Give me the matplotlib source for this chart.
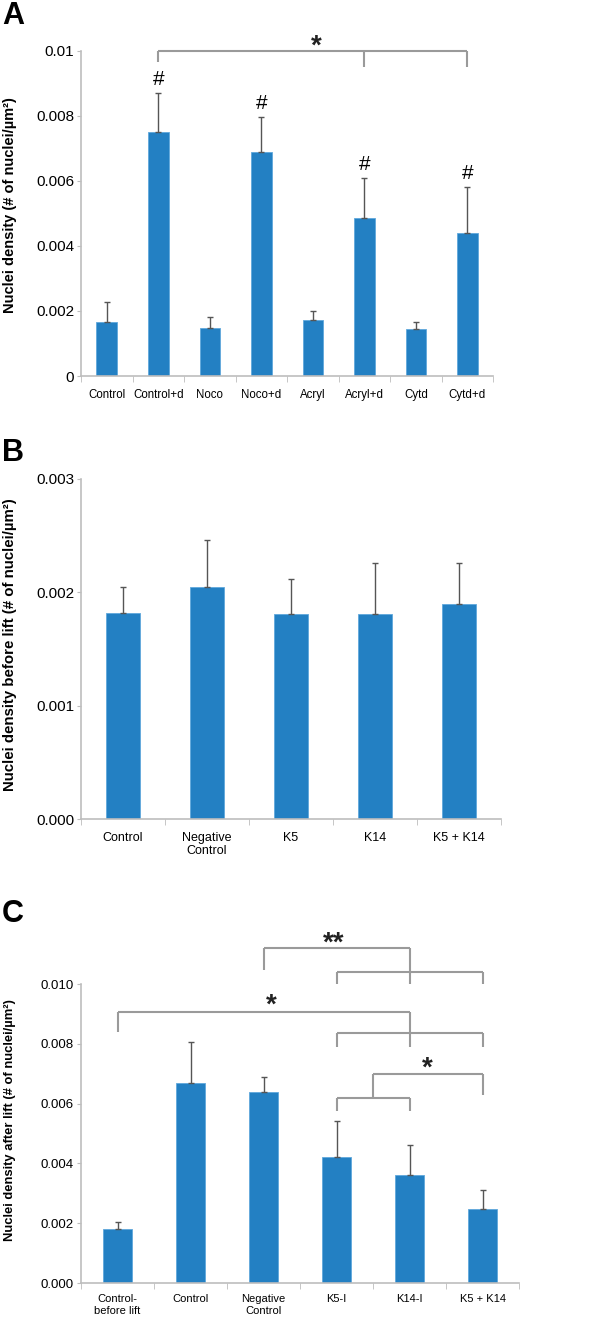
import matplotlib
matplotlib.use("Agg")
import matplotlib.pyplot as plt
import numpy as np

plt.rcParams['font.family'] = ['Liberation Sans', 'DejaVu Sans']

# ---- data ----
labels_a = ['Control', 'Control+d', 'Noco', 'Noco+d', 'Acryl', 'Acryl+d', 'Cytd', 'Cytd+d']
means_a = [0.00167, 0.0075, 0.00149, 0.0069, 0.00171, 0.00485, 0.00144, 0.00439]
tops_a = [0.00227, 0.0087, 0.00183, 0.00796, 0.0020, 0.0061, 0.00165, 0.0058]
hash_a = [1, 3, 5, 7]

labels_b = ['Control', 'Negative\nControl', 'K5', 'K14', 'K5 + K14']
means_b = [0.00182, 0.00205, 0.00181, 0.00181, 0.00190]
tops_b = [0.00205, 0.00246, 0.00212, 0.00226, 0.00226]

labels_c = ['Control-\nbefore lift', 'Control', 'Negative\nControl', 'K5-I', 'K14-I', 'K5 + K14']
means_c = [0.00181, 0.00668, 0.0064, 0.00422, 0.0036, 0.00247]
tops_c = [0.00204, 0.00805, 0.00689, 0.00543, 0.00462, 0.00311]

BAR = '#2380c3'
SPINE = '#bdbdbd'
BRK = '#9a9a9a'

fig = plt.figure(figsize=(6, 13.17), dpi=100)


def bar_panel(rect, labels, means, tops, ylim, yticks, yfmt,
              ytick_size, xtick_size, xpad):
    ax = fig.add_axes(rect)
    x = np.arange(len(labels))
    ax.bar(x, means, width=0.4, color=BAR, edgecolor='#5fa8dc', linewidth=0.6, zorder=2)
    # one-sided error bars (upward only)
    err = np.array(tops) - np.array(means)
    ax.errorbar(x, means, yerr=[np.zeros_like(err), err], fmt='none',
                ecolor='#555555', elinewidth=1.0, capsize=2.5, capthick=1.0, zorder=3)
    ax.set_xlim(-0.5, len(labels) - 0.5)
    ax.set_ylim(*ylim)
    ax.set_yticks(yticks)
    ax.set_yticklabels([yfmt.format(v) for v in yticks], fontsize=ytick_size)
    ax.set_xticks(x)
    ax.set_xticklabels(labels, fontsize=xtick_size, linespacing=1.2)
    ax.tick_params(axis='x', which='major', length=0, pad=xpad)
    ax.set_xticks(np.arange(len(labels) + 1) - 0.5, minor=True)
    ax.tick_params(axis='x', which='minor', length=4, color=SPINE, direction='out')
    ax.tick_params(axis='y', length=3, color=SPINE, pad=2)
    for s in ['top', 'right']:
        ax.spines[s].set_visible(False)
    for s in ['left', 'bottom']:
        ax.spines[s].set_color(SPINE)
        ax.spines[s].set_linewidth(1.2)
    return ax


def bracket(ax, x0, x1, y, leg0, leg1, mids=()):
    kw = dict(color=BRK, lw=1.5, clip_on=False, zorder=4, solid_capstyle='butt')
    ax.plot([x0, x1], [y, y], **kw)
    ax.plot([x0, x0], [y, leg0], **kw)
    ax.plot([x1, x1], [y, leg1], **kw)
    for xm, ym in mids:
        ax.plot([xm, xm], [y, ym], **kw)


def star(ax, x, y, txt='*', size=20):
    ax.text(x, y, txt, ha='center', va='center', fontsize=size,
            fontweight='bold', color='#222222', clip_on=False)


# ---- panel A ----
axa = bar_panel([0.135, 0.7145, 0.687, 0.2468], labels_a, means_a, tops_a,
                (0, 0.01), [0, 0.002, 0.004, 0.006, 0.008, 0.01],
                '{:g}', 11, 8.3, 9)
axa.set_yticklabels(['0', '0.002', '0.004', '0.006', '0.008', '0.01'])
for i in hash_a:
    axa.text(i, tops_a[i] + 0.00042, '#', ha='center', va='center', fontsize=15)
bracket(axa, 1, 7, 0.01, 0.00966, 0.0095, mids=[(5, 0.0095)])
star(axa, 4.06, 0.01012)

# ---- panel B ----
bar_panel([0.135, 0.3781, 0.7, 0.2582], labels_b, means_b, tops_b,
          (0, 0.003), [0, 0.001, 0.002, 0.003], '{:.3f}', 11, 9, 9)

# ---- panel C ----
axc = bar_panel([0.135, 0.0258, 0.73, 0.227], labels_c, means_c, tops_c,
                (0, 0.010), [0, 0.002, 0.004, 0.006, 0.008, 0.010], '{:.3f}',
                9.5, 8, 8)
# ** : Negative Control vs (K5-I, K14-I, K5+K14)
bracket(axc, 3, 5, 0.0104, 0.0100, 0.0100, mids=[(4, 0.0100)])
bracket(axc, 2, 4, 0.0112, 0.01047, 0.0104)
star(axc, 2.96, 0.01135, '**')
# * : Control-before lift vs (K5-I, K14-I, K5+K14)
bracket(axc, 3, 5, 0.00836, 0.0079, 0.0079, mids=[(4, 0.0079)])
bracket(axc, 0, 4, 0.00906, 0.0084, 0.00836)
star(axc, 2.1, 0.00927)
# * : (K5-I, K14-I) vs K5+K14
bracket(axc, 3, 4, 0.0062, 0.00575, 0.00575)
bracket(axc, 3.5, 5, 0.0070, 0.0062, 0.0063)
star(axc, 4.25, 0.00716)

# y axis titles, placed in figure coords
ylabels = [('Nuclei density (# of nuclei/µm²)', 0.8443, 10.5),
           ('Nuclei density before lift (# of nuclei/µm²)', 0.5106, 10.8),
           ('Nuclei density after lift (# of nuclei/µm²)', 0.1496, 9.4)]
for txt, yy, fs in ylabels:
    fig.text(0.016, yy, txt, rotation=90, ha='center', va='center',
             fontsize=fs, fontweight='bold')

# panel letters
for txt, yy in [('A', 0.988), ('B', 0.656), ('C', 0.306)]:
    fig.text(0.003, yy, txt, fontsize=22, fontweight='bold', va='center', ha='left')

fig.savefig('out.png', dpi=100)
